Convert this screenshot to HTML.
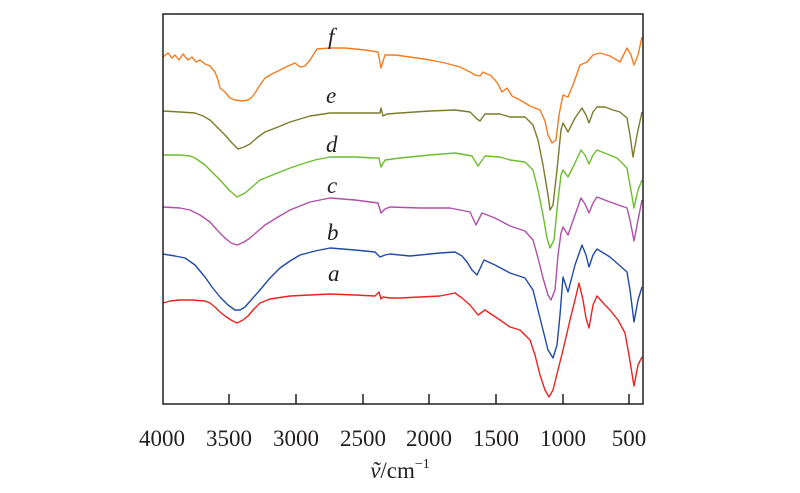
<!DOCTYPE html>
<html><head><meta charset="utf-8"><style>
body{margin:0;background:#fff;}
svg{display:block;font-family:"Liberation Serif",serif;}
</style></head><body>
<svg width="800" height="493" viewBox="0 0 800 493">
<g fill="none" stroke-width="1.4" stroke-linejoin="round">
<polyline stroke="#f47c20" points="163,57 168,53 172,58 175,55 179,60 183,54 188,60 192,57 196,62 200,60 205,64 210,66 215,72 218,80 220,88 225,92 230,98 235,100 242,101 248,100 252,97 255,93 260,85 265,78 272,74 280,70 288,66 295,63 300,67 305,66 310,60 317,49 330,48 345,48 365,50 378,52 381,68 385,55 395,55 410,57 430,60 445,63 460,67 470,72 475,75 480,76 483,72 487,74 490,75 495,80 498,84 502,92 507,88 512,96 520,100 530,106 540,110 545,121 548,135 552,143 556,140 559,115 563,95 568,97 573,85 580,65 587,62 593,55 600,53 610,56 620,62 627,48 631,55 634,65 638,55 642,37"/>
<polyline stroke="#7b7b2c" points="163,111 180,112 195,113 203,116 210,120 218,128 225,135 232,143 238,149 244,147 250,144 258,137 265,132 278,127 290,122 300,119 310,116 330,113 360,113 380,113 381,108 383,116 387,114 400,113 430,111 455,110 470,112 477,119 480,121 485,114 500,114 510,117 525,117 533,125 538,140 543,165 548,195 550,210 553,205 557,170 561,130 563,123 568,132 575,118 582,108 586,115 589,123 593,112 597,107 605,107 613,110 620,112 627,118 630,135 633,157 637,135 642,112"/>
<polyline stroke="#6cbd2c" points="163,155 180,155 190,156 195,158 205,165 212,172 220,180 229,190 237,197 245,193 252,187 260,180 275,174 290,168 305,163 315,160 330,157 355,157 375,158 379,158 381,167 385,160 400,158 430,155 455,153 472,156 478,166 485,156 500,157 510,160 525,162 533,170 538,190 543,215 547,238 550,248 554,240 558,200 561,175 563,170 568,177 575,163 581,150 585,155 589,164 593,155 597,150 607,154 617,158 627,168 630,185 634,208 638,190 642,180"/>
<polyline stroke="#b04fa9" points="163,207 180,208 190,210 200,215 210,222 218,231 225,238 231,243 237,245 244,242 250,238 258,231 265,225 278,217 290,210 300,206 310,202 330,198 355,200 378,203 381,213 385,209 390,207 420,208 450,208 470,212 476,225 482,213 495,218 510,226 525,231 533,240 538,258 543,278 548,295 551,300 555,290 558,255 561,233 563,227 568,235 575,215 581,198 585,204 589,213 593,203 597,197 610,202 627,208 630,220 634,241 638,220 642,200"/>
<polyline stroke="#1f4aa8" points="163,254 175,256 185,258 195,265 205,277 212,287 220,297 228,305 235,310 240,310 245,307 252,299 260,290 270,278 280,268 290,261 300,255 315,251 330,248 355,250 375,252 380,257 385,255 390,254 410,256 440,253 455,252 462,256 467,262 472,270 477,275 484,260 495,265 510,273 525,278 533,290 538,310 543,330 548,350 553,358 557,345 560,315 563,277 568,292 575,265 582,245 586,255 589,267 593,255 597,249 610,257 627,272 630,290 634,322 638,300 642,287"/>
<polyline stroke="#e8231f" points="163,303 170,301 180,300 192,300 205,301 210,303 215,307 220,312 225,316 231,320 237,323 243,320 248,316 254,309 260,303 270,299 290,296 310,295 330,294 355,295 375,296 379,292 381,299 383,297 390,298 400,298 420,297 440,296 455,293 462,298 470,305 478,315 485,310 500,320 510,327 520,330 530,340 535,355 540,375 545,390 549,397 553,390 558,370 563,350 570,320 575,300 579,283 583,300 586,318 589,328 593,305 597,296 605,305 610,310 618,320 625,333 629,355 634,386 638,365 642,357"/>
</g>
<rect x="163" y="14" width="480" height="390" fill="none" stroke="#231f20" stroke-width="1.5"/>
<g stroke="#231f20" stroke-width="1.5">
<line x1="229" y1="404" x2="229" y2="394"/><line x1="296" y1="404" x2="296" y2="394"/><line x1="363" y1="404" x2="363" y2="394"/><line x1="429" y1="404" x2="429" y2="394"/><line x1="496" y1="404" x2="496" y2="394"/><line x1="563" y1="404" x2="563" y2="394"/><line x1="629" y1="404" x2="629" y2="394"/>
</g>
<g font-size="23" fill="#231f20" text-anchor="middle">
<text x="162" y="446">4000</text><text x="229" y="446">3500</text><text x="296" y="446">3000</text><text x="363" y="446">2500</text><text x="429" y="446">2000</text><text x="496" y="446">1500</text><text x="563" y="446">1000</text><text x="629" y="446">500</text>
<text x="400" y="478"><tspan font-style="italic">ṽ</tspan>/cm<tspan font-size="14" dy="-10">−1</tspan></text>
</g>
<g font-size="23" font-style="italic" fill="#231f20">
<text x="328" y="44">f</text><text x="326" y="103">e</text><text x="326" y="152">d</text><text x="327" y="193">c</text><text x="327" y="240">b</text><text x="328" y="281">a</text>
</g>
</svg>
</body></html>
